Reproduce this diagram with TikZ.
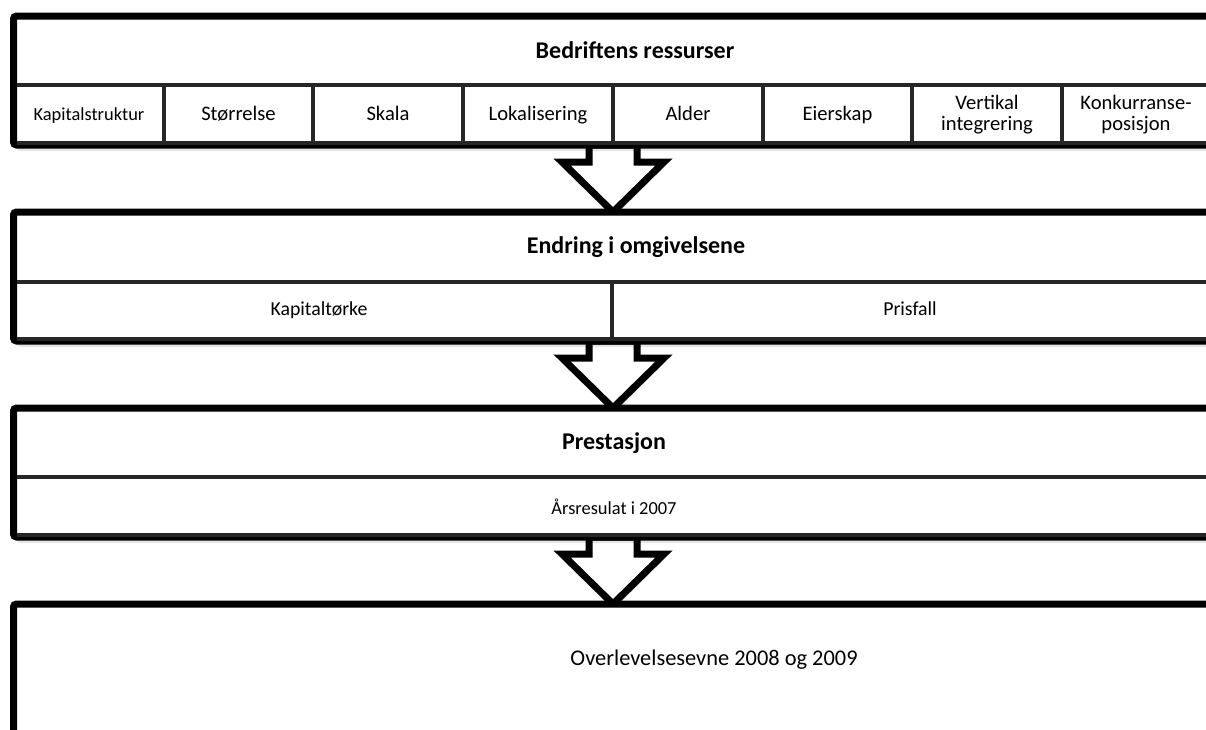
\documentclass[tikz,border=0pt]{standalone}
\usepackage{fontspec}
\setmainfont{Carlito}
\usetikzlibrary{calc}
\tikzset{
  outerbox/.style={draw=black, line width=3.5pt, fill=white, rounded corners=1.5pt},
  innerline/.style={draw=black!85, line width=2pt},
  shadowA/.style={fill=black, opacity=0.10, rounded corners=3pt},
  arrowbox/.style={draw=black, line width=3.5pt, fill=white, line join=miter},
  title/.style={font=\fontsize{12}{14}\selectfont\bfseries, inner sep=0pt, text height=1.6ex, text depth=0.45ex},
  cell/.style={font=\fontsize{10.3}{12}\selectfont, inner sep=0pt, align=center, text height=1.6ex, text depth=0.45ex},
  twocell/.style={font=\fontsize{10.3}{10.5}\selectfont, inner sep=0pt, align=center},
  big/.style={font=\fontsize{11.2}{13}\selectfont, inner sep=0pt, text height=1.6ex, text depth=0.45ex}
}
\newcommand{\myshadow}[2]{%
  \fill[shadowA] ($(#1)+(2,2)$) rectangle ($(#2)+(4,6)$);
  \fill[shadowA] ($(#1)+(3,3)$) rectangle ($(#2)+(3,3)$);}
\newcommand{\myarrow}[2]{%
  \fill[black, opacity=0.12] ($(#1)+(-22,4)$) -- ($(#1)+(-22,20)$) -- ($(#1)+(-49,20)$) -- ($(#2)+(2,4)$) -- ($(#1)+(53,20)$) -- ($(#1)+(26,20)$) -- ($(#1)+(26,4)$) -- cycle;
  \filldraw[arrowbox] ($(#1)+(-24,0)$) -- ($(#1)+(-24,17)$) -- ($(#1)+(-51,17)$) -- (#2) -- ($(#1)+(51,17)$) -- ($(#1)+(24,17)$) -- ($(#1)+(24,0)$) -- cycle;}
\begin{document}
\begin{tikzpicture}[x=0.5pt,y=-0.5pt]
\clip (0,0) rectangle (1206,729);
\fill[white] (0,0) rectangle (1206,729);
% coordinates
\coordinate (b1tl) at (13.5,16);   \coordinate (b1br) at (1222,145);
\coordinate (b2tl) at (13.5,212);  \coordinate (b2br) at (1222,341);
\coordinate (b3tl) at (13.5,408);  \coordinate (b3br) at (1222,537);
\coordinate (b4tl) at (13.5,604);  \coordinate (b4br) at (1222,780);
\coordinate (a1s) at (613,145); \coordinate (a1e) at (613,212);
\coordinate (a2s) at (613,341); \coordinate (a2e) at (613,408);
\coordinate (a3s) at (613,537); \coordinate (a3e) at (613,604);
% arrows (behind boxes)
\myarrow{a1s}{a1e}
\myarrow{a2s}{a2e}
\myarrow{a3s}{a3e}
% shadows
\myshadow{b1tl}{b1br}
\myshadow{b2tl}{b2br}
\myshadow{b3tl}{b3br}
% box 1
\draw[outerbox] (b1tl) rectangle (b1br);
\draw[innerline] (17,85) -- (1222,85);
\foreach \x in {164,313,463,613,763,912,1062}
  \draw[innerline] (\x,85) -- (\x,143);
\draw[innerline] (17,143) -- (1222,143);
\node[title] (t1) at (635,53) {Bedriftens ressurser};
\node[cell, font=\fontsize{9.2}{11}\selectfont] (c1) at (89,115) {Kapitalstruktur};
\node[cell] (c2) at (238.5,115) {Størrelse};
\node[cell] (c3) at (388,115) {Skala};
\node[cell] (c4) at (538,115) {Lokalisering};
\node[cell] (c5) at (688,115) {Alder};
\node[cell] (c6) at (837.5,115) {Eierskap};
\node[twocell] (c7) at (987,115) {Vertikal\\integrering};
\node[twocell] (c8) at (1136,115) {Konkurranse-\\posisjon};
% box 2
\draw[outerbox] (b2tl) rectangle (b2br);
\draw[innerline] (17,282) -- (1222,282);
\draw[innerline] (612,282) -- (612,339);
\draw[innerline] (17,339) -- (1222,339);
\node[title] (t2) at (636,248) {Endring i omgivelsene};
\node[cell, font=\fontsize{9.9}{12}\selectfont] (d1) at (319,310) {Kapitaltørke};
\node[cell, font=\fontsize{9.9}{12}\selectfont] (d2) at (910,310) {Prisfall};
% box 3
\draw[outerbox] (b3tl) rectangle (b3br);
\draw[innerline] (17,477) -- (1222,477);
\draw[innerline] (17,535) -- (1222,535);
\node[title] (t3) at (614,444) {Prestasjon};
\node[cell, font=\fontsize{9.2}{11}\selectfont] (e1) at (614,509) {Årsresulat i 2007};
% box 4
\draw[outerbox] (b4tl) rectangle (b4br);
\node[big] (f1) at (714,660) {Overlevelsesevne 2008 og 2009};
\end{tikzpicture}
\end{document}
